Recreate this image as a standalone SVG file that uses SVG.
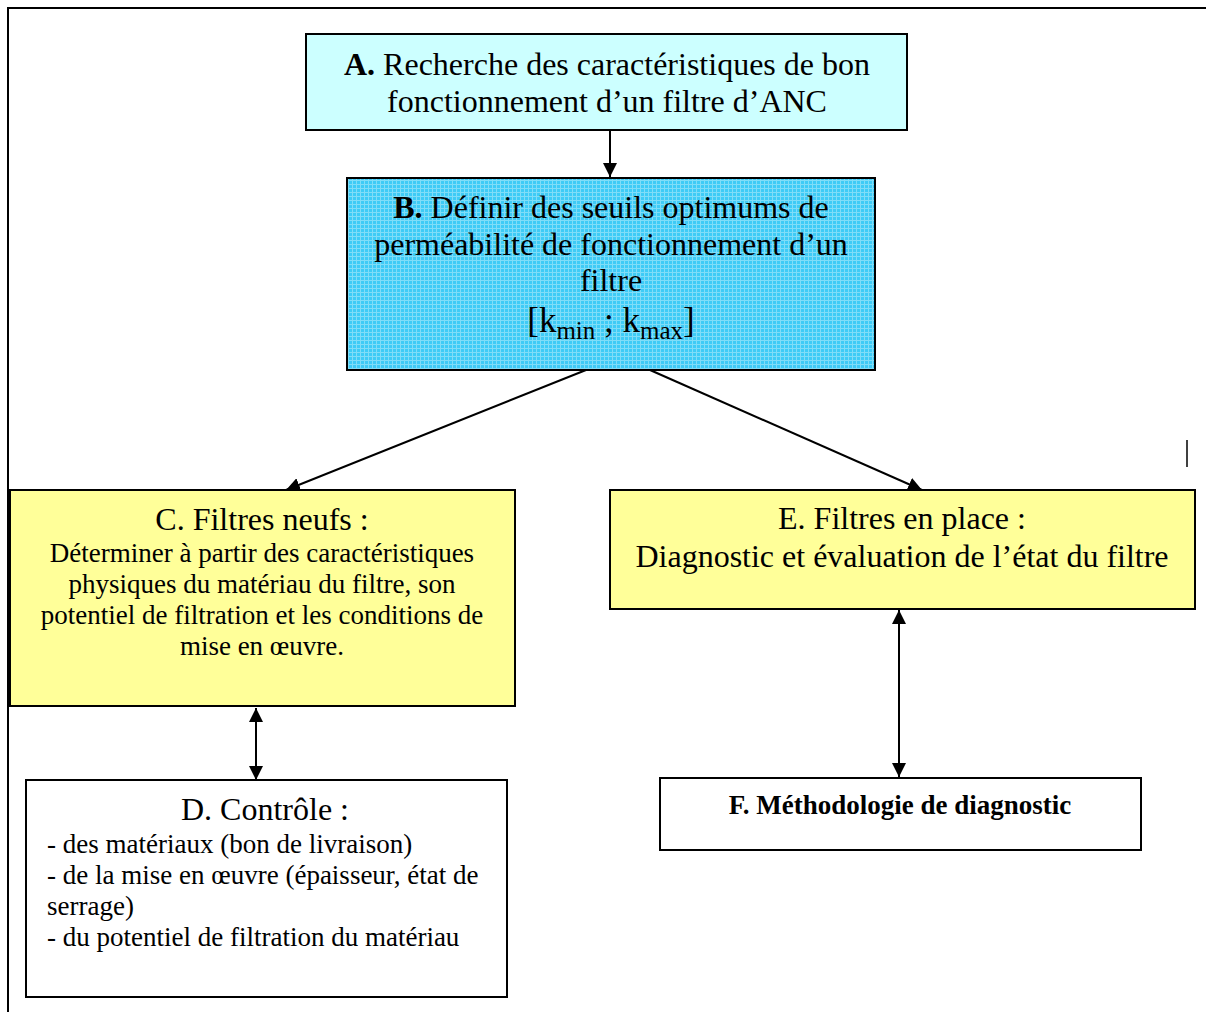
<svg xmlns="http://www.w3.org/2000/svg" width="1206" height="1012" viewBox="0 0 1206 1012">
<style>
text{font-family:"Liberation Serif","Times New Roman",serif;fill:#000}
.big{font-size:32px}
.small{font-size:27px}
.box{stroke:#000;stroke-width:2}
.conn{stroke:#000;stroke-width:2;fill:none}
</style>
<defs>
<marker id="ah" viewBox="0 0 10 10" refX="10" refY="5" markerWidth="14" markerHeight="14" markerUnits="userSpaceOnUse" orient="auto-start-reverse">
<path d="M0,0 L10,5 L0,10 z" fill="#000"/>
</marker>
<pattern id="grid" width="4" height="4" patternUnits="userSpaceOnUse">
<rect width="4" height="4" fill="#3ECBF6"/>
<path d="M0,0.5 H4 M0.5,0 V4" stroke="#7FDDF8" stroke-width="1"/>
</pattern>
</defs>
<rect width="1206" height="1012" fill="#fff"/>
<g id="frame">
<path d="M8,1012 V8 H1206" class="conn" stroke-width="2.5"/>
<line x1="1187" y1="440" x2="1187" y2="467" stroke="#000" stroke-width="1.5"/>
</g>
<g id="connectors">
<line x1="610" y1="130" x2="610" y2="177" class="conn" marker-end="url(#ah)"/>
<line x1="586" y1="370" x2="286" y2="490" class="conn" marker-end="url(#ah)"/>
<line x1="650" y1="370" x2="922" y2="490" class="conn" marker-end="url(#ah)"/>
<line x1="256" y1="708" x2="256" y2="780" class="conn" marker-start="url(#ah)" marker-end="url(#ah)"/>
<line x1="899" y1="610" x2="899" y2="777" class="conn" marker-start="url(#ah)" marker-end="url(#ah)"/>
</g>
<g id="nodeA">
<rect x="306" y="34" width="601" height="96" fill="#CCFFFF" class="box"/>
<text class="big" x="607" y="75" text-anchor="middle"><tspan font-weight="bold">A.</tspan> Recherche des caractéristiques de bon</text>
<text class="big" x="607" y="112" text-anchor="middle">fonctionnement d’un filtre d’ANC</text>
</g>
<g id="nodeB">
<rect x="347" y="178" width="528" height="192" fill="url(#grid)" class="box"/>
<text class="big" x="611" y="218" text-anchor="middle"><tspan font-weight="bold">B.</tspan> Définir des seuils optimums de</text>
<text class="big" x="611" y="255" text-anchor="middle">perméabilité de fonctionnement d’un</text>
<text class="big" x="611" y="291" text-anchor="middle">filtre</text>
<text x="611" y="332" text-anchor="middle" font-size="35">[k<tspan font-size="25" dy="7">min</tspan><tspan dy="-7"> ; k</tspan><tspan font-size="25" dy="7">max</tspan><tspan dy="-7">]</tspan></text>
</g>
<g id="nodeC">
<rect x="10" y="490" width="505" height="216" fill="#FFFF99" class="box"/>
<text class="big" x="262" y="530" text-anchor="middle">C. Filtres neufs :</text>
<text class="small" x="262" y="562" text-anchor="middle">Déterminer à partir des caractéristiques</text>
<text class="small" x="262" y="593" text-anchor="middle">physiques du matériau du filtre, son</text>
<text class="small" x="262" y="624" text-anchor="middle">potentiel de filtration et les conditions de</text>
<text class="small" x="262" y="655" text-anchor="middle">mise en œuvre.</text>
</g>
<g id="nodeE">
<rect x="610" y="490" width="585" height="119" fill="#FFFF99" class="box"/>
<text class="big" x="902" y="529" text-anchor="middle">E. Filtres en place :</text>
<text class="big" x="902" y="567" text-anchor="middle">Diagnostic et évaluation de l’état du filtre</text>
</g>
<g id="nodeD">
<rect x="26" y="780" width="481" height="217" fill="#fff" class="box"/>
<text class="big" x="265" y="820" text-anchor="middle">D. Contrôle :</text>
<text class="small" x="47" y="853">- des matériaux (bon de livraison)</text>
<text class="small" x="47" y="884">- de la mise en œuvre (épaisseur, état de</text>
<text class="small" x="47" y="915">serrage)</text>
<text class="small" x="47" y="946">- du potentiel de filtration du matériau</text>
</g>
<g id="nodeF">
<rect x="660" y="778" width="481" height="72" fill="#fff" class="box"/>
<text class="small" x="900" y="814" text-anchor="middle" font-weight="bold">F. Méthodologie de diagnostic</text>
</g>
</svg>
